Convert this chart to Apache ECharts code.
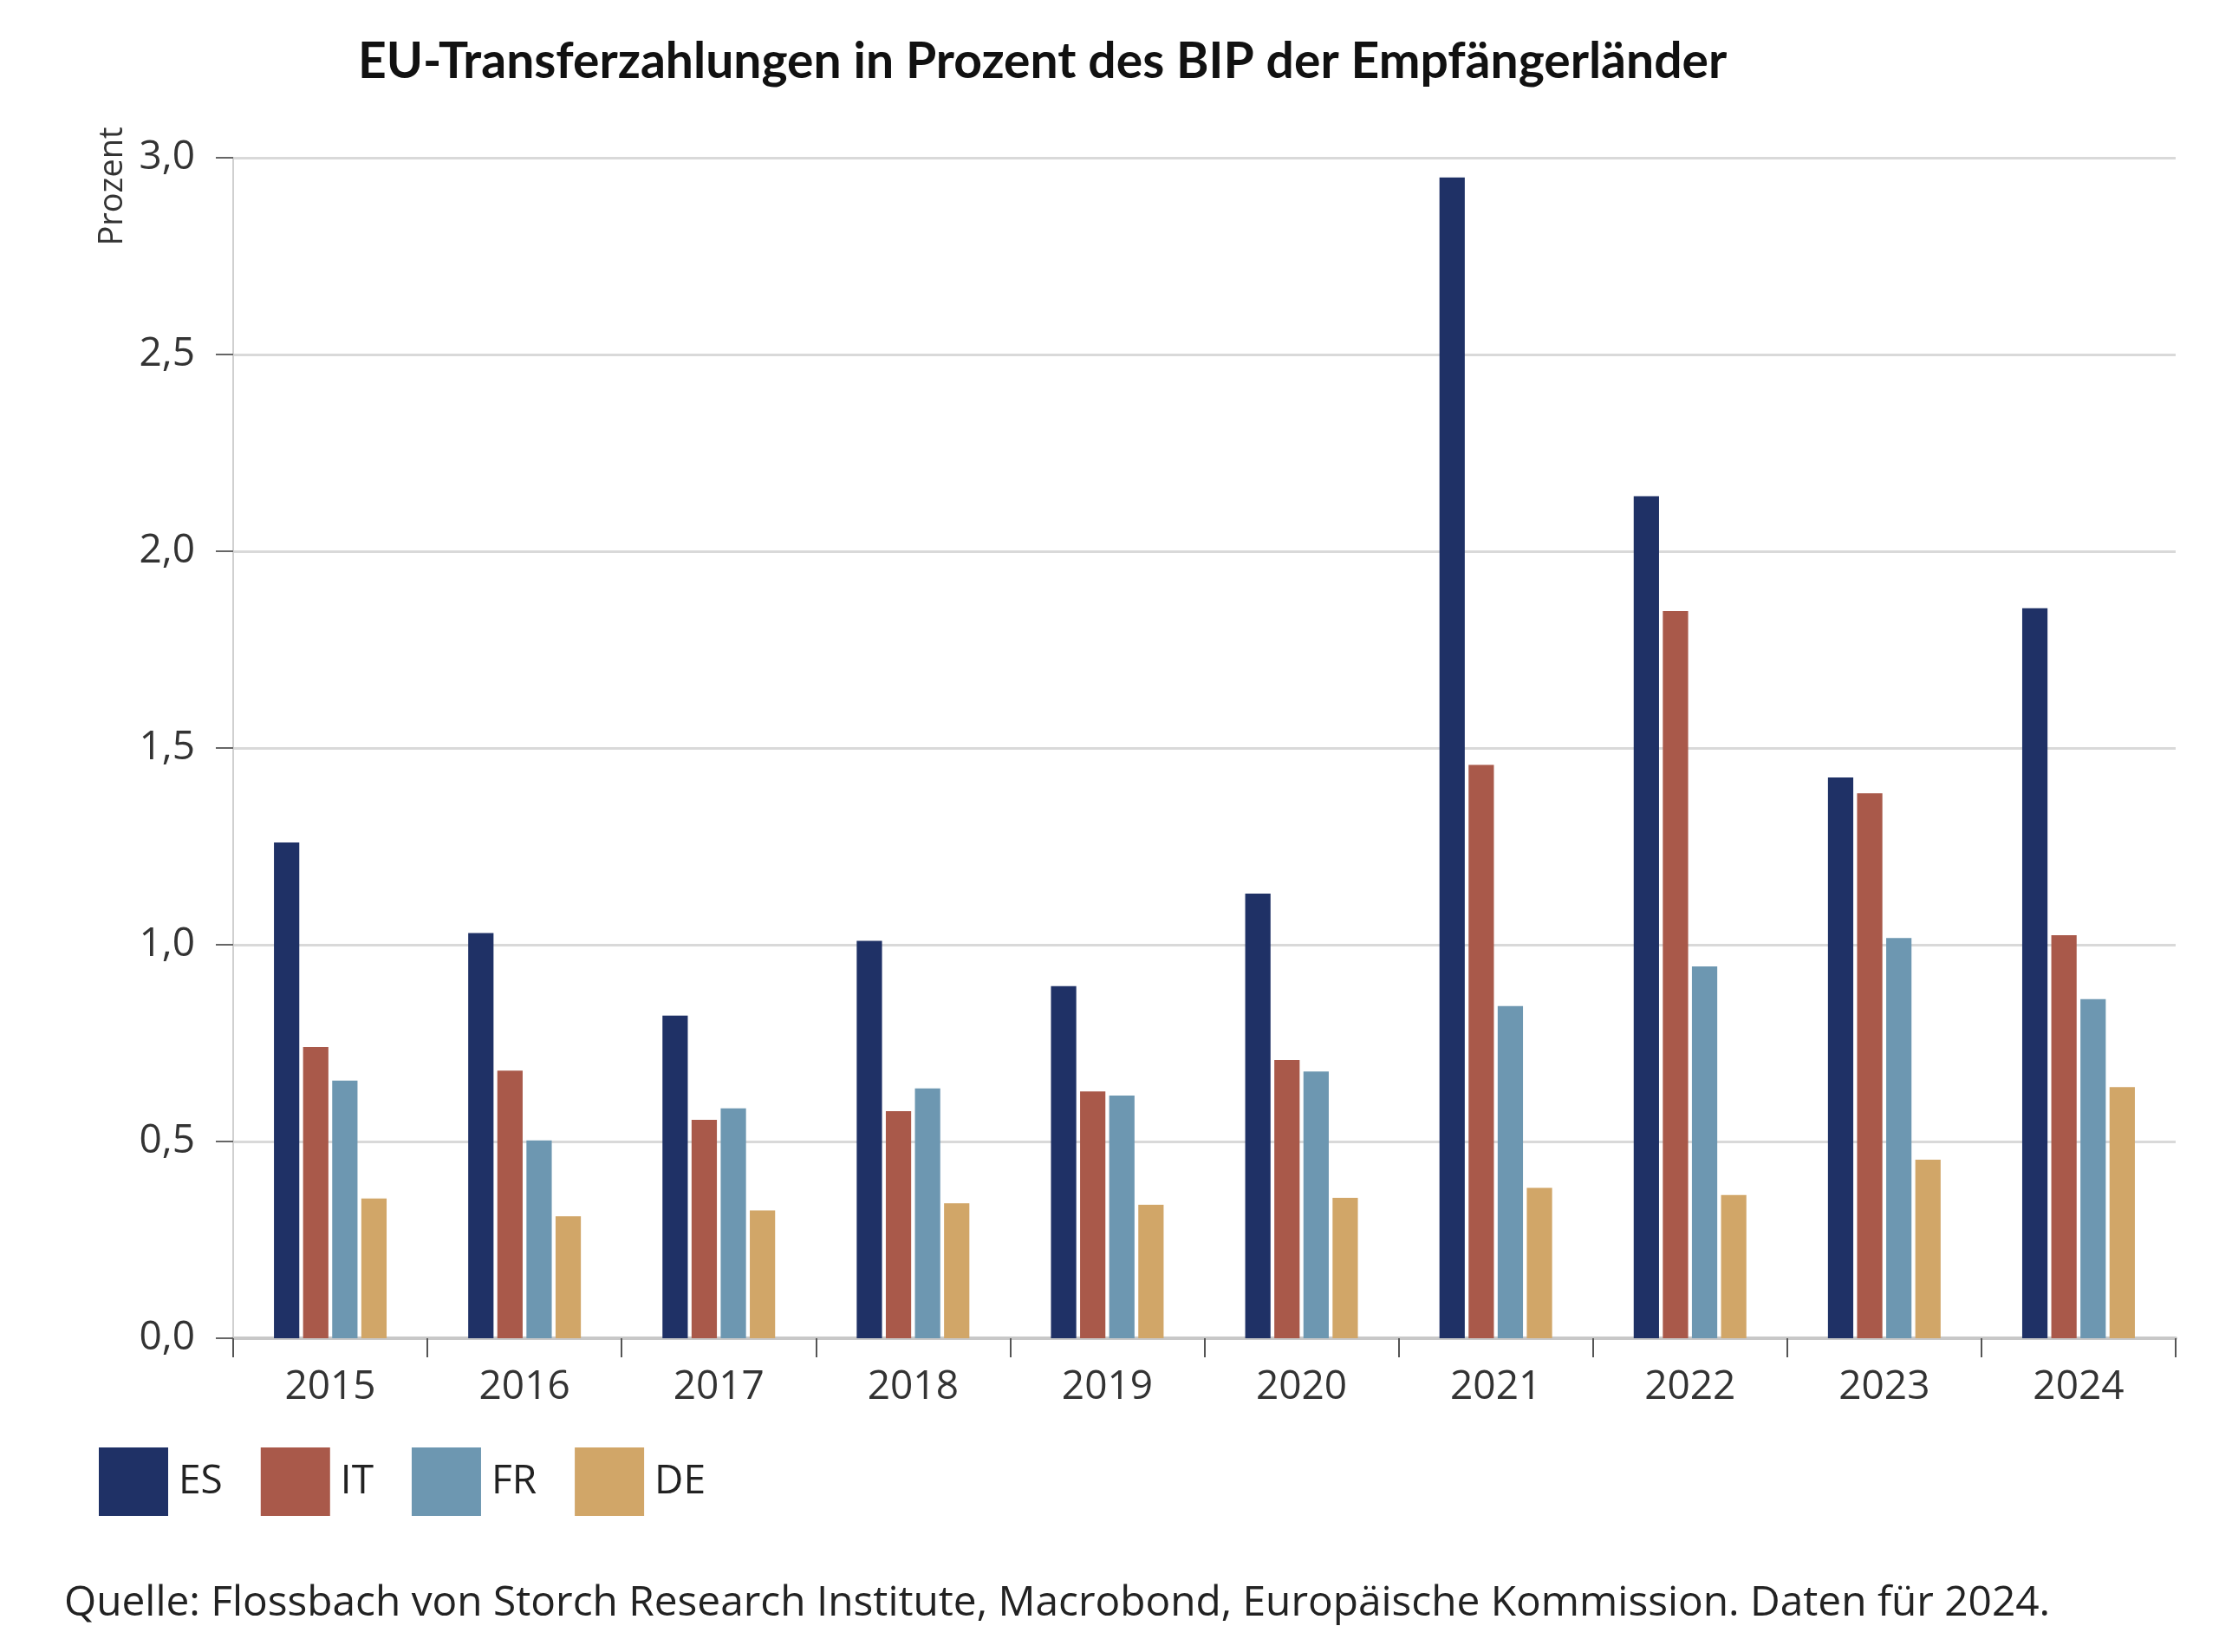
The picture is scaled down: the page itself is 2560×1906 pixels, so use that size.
<!DOCTYPE html>
<html>
<head>
<meta charset="utf-8">
<script src="https://cdn.jsdelivr.net/npm/echarts@6/dist/echarts.min.js"></script>
<style>
html,body{margin:0;padding:0;background:#fff;}
#chart{width:2560px;height:1906px;}
</style>
</head>
<body>
<div id="chart"></div>
<script>
const categories = ['2015','2016','2017','2018','2019','2020','2021','2022','2023','2024'];
const seriesNames = ['ES','IT','FR','DE'];
const esValues = [1.26, 1.03, 0.82, 1.01, 0.895, 1.13, 2.95, 2.14, 1.425, 1.855];
const itValues = [0.74, 0.68, 0.555, 0.577, 0.627, 0.707, 1.457, 1.848, 1.385, 1.024];
const frValues = [0.655, 0.503, 0.584, 0.635, 0.617, 0.678, 0.844, 0.945, 1.017, 0.862];
const deValues = [0.355, 0.31, 0.325, 0.343, 0.339, 0.357, 0.382, 0.364, 0.454, 0.638];
const yTicks = [0, 0.5, 1.0, 1.5, 2.0, 2.5, 3.0];
const colors = ['#1f3166', '#a9594a', '#6d97b1', '#d1a668'];
const titleText = 'EU-Transferzahlungen in Prozent des BIP der Empfängerländer';
const sourceText = 'Quelle: Flossbach von Storch Research Institute, Macrobond, Europäische Kommission. Daten für 2024.';
const yName = 'Prozent';

const chart = echarts.init(document.getElementById('chart'), null, {renderer: 'canvas'});
const allValues = [esValues, itValues, frValues, deValues];
const font = '"Open Sans", "Noto Sans", sans-serif';

chart.setOption({
  animation: false,
  backgroundColor: '#ffffff',
  color: colors,
  title: [
    {
      text: titleText,
      left: 408,
      top: 38,
      textStyle: {fontFamily: 'Lato, "Open Sans", sans-serif', fontWeight: 'bold', fontSize: 57, color: '#111'}
    },
    {
      text: sourceText,
      left: 69,
      top: 1821,
      textStyle: {fontFamily: font, fontWeight: 'normal', fontSize: 47.8, color: '#222'}
    }
  ],
  graphic: [
    {
      type: 'text',
      x: 130,
      y: 215,
      rotation: Math.PI / 2,
      style: {text: yName, fontFamily: font, fontSize: 38, fill: '#333', textAlign: 'center', textVerticalAlign: 'middle'}
    }
  ],
  legend: {
    left: 109,
    top: 1665,
    icon: 'rect',
    itemWidth: 80,
    itemHeight: 79,
    itemGap: 44,
    data: seriesNames,
    textStyle: {fontFamily: font, fontSize: 46, color: '#222', padding: [0, 0, 0, 7]}
  },
  grid: {left: 269, right: 50, top: 182, bottom: 362, containLabel: false},
  xAxis: {
    type: 'category',
    data: categories,
    axisLine: {show: true, lineStyle: {color: '#c8c8c8', width: 4}},
    axisTick: {show: true, length: 22, lineStyle: {color: '#555', width: 2}},
    axisLabel: {fontFamily: font, fontSize: 46, color: '#333', margin: 34},
    splitLine: {show: false}
  },
  yAxis: {
    type: 'value',
    min: yTicks[0],
    max: yTicks[yTicks.length - 1],
    interval: 0.5,
    axisLine: {show: true, lineStyle: {color: '#d0d0d0', width: 2}},
    axisTick: {show: true, length: 20, lineStyle: {color: '#666', width: 2}},
    axisLabel: {
      fontFamily: font, fontSize: 46, color: '#333', margin: 44,
      formatter: v => v.toFixed(1).replace('.', ',')
    },
    splitLine: {show: true, lineStyle: {color: '#d9d9d9', width: 3}}
  },
  series: seriesNames.map((name, i) => ({
    name: name,
    type: 'bar',
    data: allValues[i],
    barCategoryGap: '42%',
    barGap: '15%',
    itemStyle: {color: colors[i]}
  }))
});
</script>
</body>
</html>
